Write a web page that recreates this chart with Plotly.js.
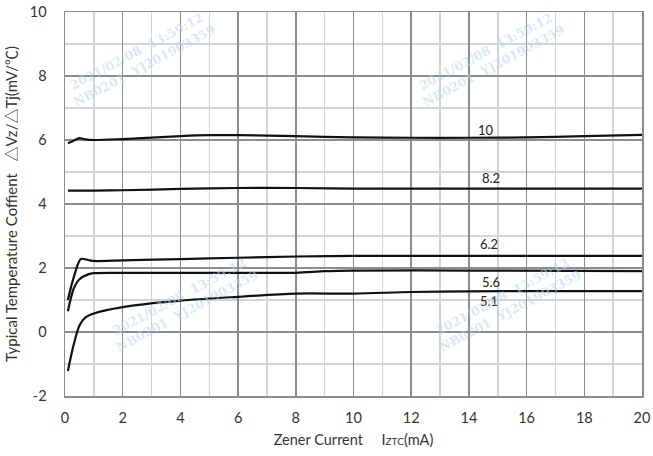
<!DOCTYPE html>
<html>
<head>
<meta charset="utf-8">
<script src="https://cdn.plot.ly/plotly-3.0.1.min.js"></script>
<style>html,body{margin:0;padding:0;background:#fff;}#chart{width:653px;height:456px;}</style>
</head>
<body>
<div id="chart"></div>
<script>
// Data
const seriesNames = ["10", "8.2", "6.2", "5.6", "5.1"];
const x10 = [0.1, 0.3, 0.5, 0.7, 1, 2, 4, 5, 6, 8, 10, 12, 14, 16, 18, 20];
const y10 = [5.9, 5.98, 6.06, 6.02, 6.0, 6.03, 6.12, 6.15, 6.15, 6.12, 6.08, 6.07, 6.07, 6.08, 6.12, 6.16];
const x82 = [0.1, 1, 2, 4, 6, 8, 10, 14, 20];
const y82 = [4.42, 4.42, 4.43, 4.47, 4.5, 4.5, 4.48, 4.48, 4.48];
const x62 = [0.1, 0.3, 0.55, 0.8, 1, 2, 4, 6, 8, 10, 14, 20];
const y62 = [1.0, 1.7, 2.28, 2.25, 2.22, 2.24, 2.28, 2.32, 2.36, 2.38, 2.38, 2.38];
const x56 = [0.1, 0.3, 0.5, 0.8, 1, 2, 4, 6, 8, 9, 10, 14, 20];
const y56 = [0.65, 1.35, 1.65, 1.8, 1.84, 1.85, 1.85, 1.85, 1.85, 1.9, 1.92, 1.92, 1.9];
const x51 = [0.1, 0.3, 0.5, 0.7, 1, 2, 4, 6, 8, 10, 12, 14, 16, 20];
const y51 = [-1.22, -0.4, 0.2, 0.45, 0.58, 0.78, 0.98, 1.1, 1.2, 1.2, 1.25, 1.27, 1.28, 1.28];
// Label positions (data coords)
const labelX = [14.6, 14.75, 14.7, 14.75, 14.7];
const labelY = [6.31, 4.81, 2.75, 1.56, 0.97];
const xTicks = [0, 2, 4, 6, 8, 10, 12, 14, 16, 18, 20];
const yTicks = [-2, 0, 2, 4, 6, 8, 10];

const xs = [x10, x82, x62, x56, x51];
const ys = [y10, y82, y62, y56, y51];
const traces = xs.map((x, i) => ({
  x: x, y: ys[i], type: 'scatter', mode: 'lines', name: seriesNames[i],
  line: {color: '#111', width: 2.2, shape: 'spline', smoothing: 0.8},
  hoverinfo: 'skip'
}));

const font = {family: 'Lato, "Open Sans", sans-serif', color: '#333'};
const wmText = '2021/02/08  13:59:12<br>NB0201  YJ201903359';
const wmPos = [[0.13, 0.88], [0.735, 0.88], [0.205, 0.24], [0.765, 0.24]];
const annotations = seriesNames.map((n, i) => ({
  x: labelX[i], y: labelY[i], xref: 'x', yref: 'y', text: n, showarrow: false,
  font: {family: 'Lato, sans-serif', size: 13, color: '#222'}
})).concat(wmPos.map(p => ({
  x: p[0], y: p[1], xref: 'paper', yref: 'paper', xanchor: 'center', yanchor: 'middle',
  text: '<b>' + wmText + '</b>', showarrow: false,
  textangle: -28, font: {family: '"DejaVu Serif", serif', size: 12.5, color: 'rgba(185,210,250,0.55)'}
})));

const layout = {
  width: 653, height: 456,
  margin: {l: 65, r: 11, t: 12, b: 60},
  paper_bgcolor: '#fff', plot_bgcolor: '#fff',
  showlegend: false,
  font: font,
  xaxis: {
    range: [0, 20], tickvals: xTicks, ticktext: xTicks.map(String),
    showgrid: true, gridcolor: '#8c8c8c', gridwidth: 1.5,
    minor: {dtick: 1, showgrid: true, gridcolor: '#d4d4d4', gridwidth: 1.5},
    showline: true, linecolor: '#8c8c8c', linewidth: 1.5, mirror: true,
    zeroline: false, ticks: '', ticklabelstandoff: 8,
    tickfont: {family: 'Lato, sans-serif', size: 14.5, color: '#333'},
    title: {text: 'Zener Current     I<span style="font-size:10px">ZTC</span>(mA)', standoff: 10,
      font: {family: 'Lato, sans-serif', size: 14.5, color: '#333'}}
  },
  yaxis: {
    range: [-2, 10], tickvals: yTicks, ticktext: yTicks.map(String),
    showgrid: true, gridcolor: '#8c8c8c', gridwidth: 1.5,
    minor: {dtick: 1, showgrid: true, gridcolor: '#d4d4d4', gridwidth: 1.5},
    showline: true, linecolor: '#8c8c8c', linewidth: 1.5, mirror: true,
    zeroline: false, ticks: '', ticklabelstandoff: 14,
    tickfont: {family: 'Lato, sans-serif', size: 14.5, color: '#333'},
    title: {text: 'Typical Temperature Coffient   \u25b3Vz/\u25b3Tj(mV/\u2103)', standoff: 8,
      font: {family: 'Lato, "Noto Sans CJK SC", sans-serif', size: 15, color: '#333'}}
  },
  annotations: annotations
};

Plotly.newPlot('chart', traces, layout, {staticPlot: true, displayModeBar: false});
</script>
</body>
</html>
